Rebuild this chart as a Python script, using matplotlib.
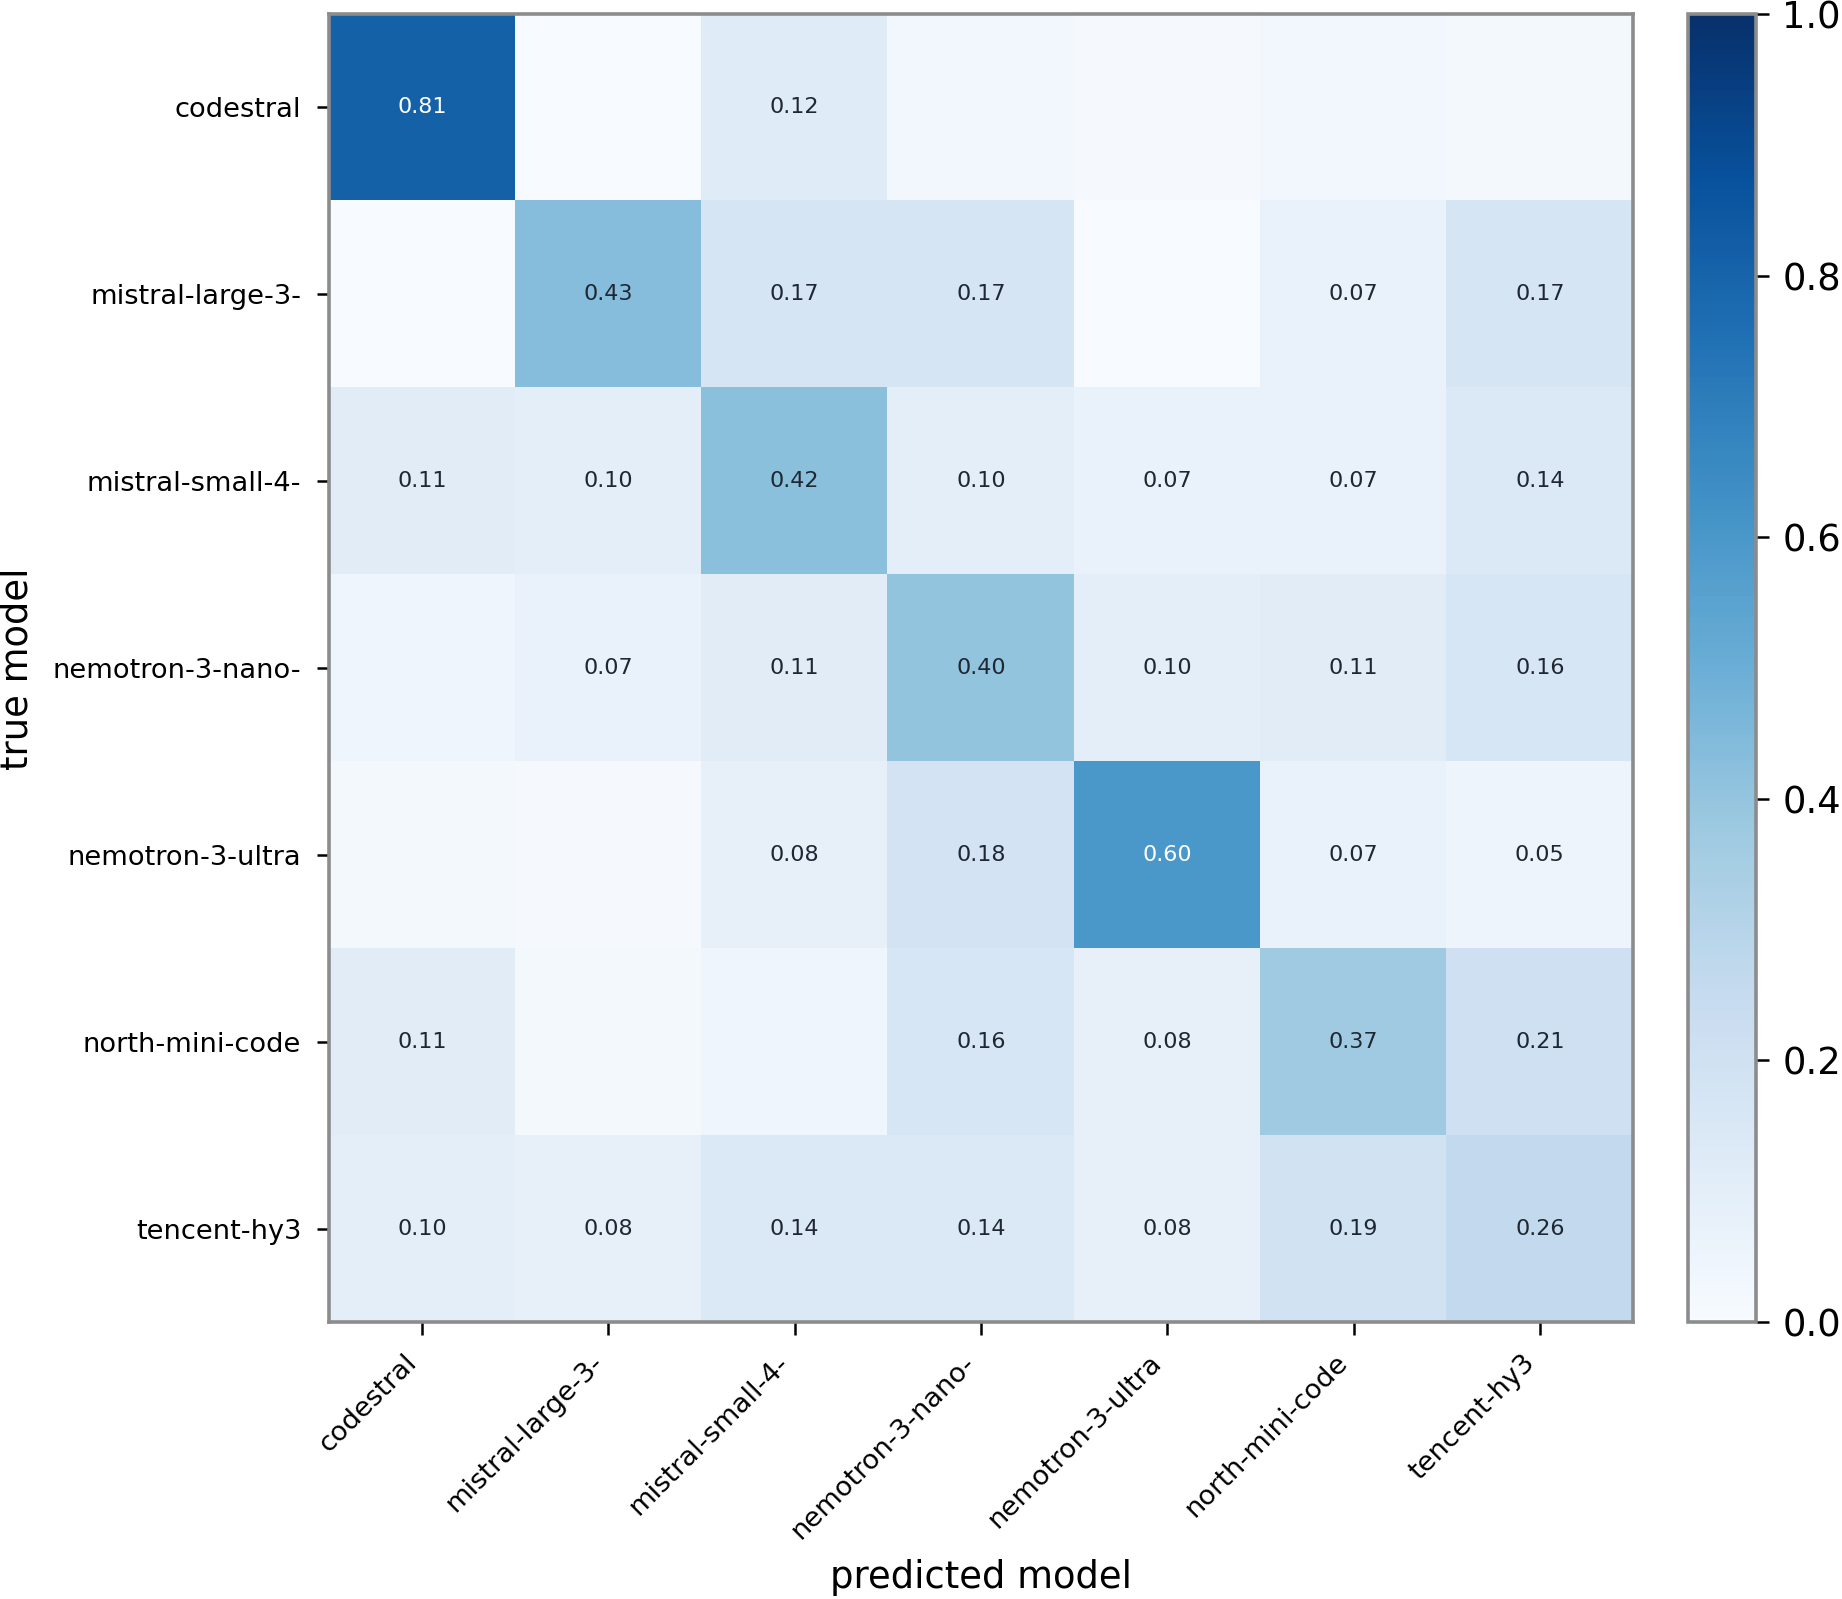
import numpy as np
import matplotlib
matplotlib.use("Agg")
import matplotlib.pyplot as plt
import matplotlib.colors as mcolors

labels = ["codestral", "mistral-large-3-", "mistral-small-4-", "nemotron-3-nano-",
          "nemotron-3-ultra", "north-mini-code", "tencent-hy3"]

row_codestral = [0.81, 0.00, 0.12, 0.03, 0.01, 0.03, 0.02]
row_mlarge    = [0.00, 0.43, 0.17, 0.17, 0.00, 0.07, 0.17]
row_msmall    = [0.11, 0.10, 0.42, 0.10, 0.07, 0.07, 0.14]
row_nnano     = [0.04, 0.07, 0.11, 0.40, 0.10, 0.11, 0.16]
row_nultra    = [0.02, 0.01, 0.08, 0.18, 0.60, 0.07, 0.05]
row_north     = [0.11, 0.02, 0.04, 0.16, 0.08, 0.37, 0.21]
row_tencent   = [0.10, 0.08, 0.14, 0.14, 0.08, 0.19, 0.26]

M = np.array([row_codestral, row_mlarge, row_msmall, row_nnano,
              row_nultra, row_north, row_tencent])

W, H, DPI = 1842, 1599, 200
fig = plt.figure(figsize=(W / DPI, H / DPI), dpi=DPI)

ax_l, ax_r, ax_t, ax_b = 329, 1633, 14, 1322
ax = fig.add_axes([ax_l / W, 1 - ax_b / H, (ax_r - ax_l) / W, (ax_b - ax_t) / H])
cax = fig.add_axes([1688 / W, 1 - ax_b / H, (1756 - 1688) / W, (ax_b - ax_t) / H])

cmap = plt.get_cmap("Blues")
norm = mcolors.Normalize(vmin=0, vmax=1)
im = ax.imshow(M, cmap=cmap, norm=norm, aspect="auto", interpolation="nearest")

n = len(labels)
for i in range(n):
    for j in range(n):
        v = M[i, j]
        if v >= 0.05:
            r, g, b, _ = cmap(norm(v))
            def lin(c):
                return c / 12.92 if c <= 0.03928 else ((c + 0.055) / 1.055) ** 2.4
            lum = 0.2126 * lin(r) + 0.7152 * lin(g) + 0.0722 * lin(b)
            col = "#1f2733" if lum > 0.408 else "white"
            ax.text(j, i, f"{v:.2f}", ha="center", va="center", fontsize=8, color=col)

ax.set_xticks(range(n))
ax.set_yticks(range(n))
ax.set_xticklabels(labels, rotation=45, ha="right", fontsize=9.8)
ax.set_yticklabels(labels, fontsize=9.8)
ax.tick_params(axis="both", length=4.5, width=0.9, color="black", pad=5.5)
for s in ax.spines.values():
    s.set_color("#8c8c8c")
    s.set_linewidth(1.3)

cb = fig.colorbar(im, cax=cax)
cb.set_ticks([0.0, 0.2, 0.4, 0.6, 0.8, 1.0])
cb.ax.tick_params(labelsize=13.3, length=4.5, width=0.9, color="black", pad=5)
cb.outline.set_edgecolor("#8c8c8c")
cb.outline.set_linewidth(1.3)

fig.text((ax_l + ax_r) / 2 / W, 1 - 1578 / H, "predicted model", ha="center", va="center", fontsize=13.3)
fig.text(17.5 / W, 1 - 669 / H, "true model", ha="center", va="center", rotation=90, fontsize=13.3)

fig.savefig("out.png", dpi=DPI)
